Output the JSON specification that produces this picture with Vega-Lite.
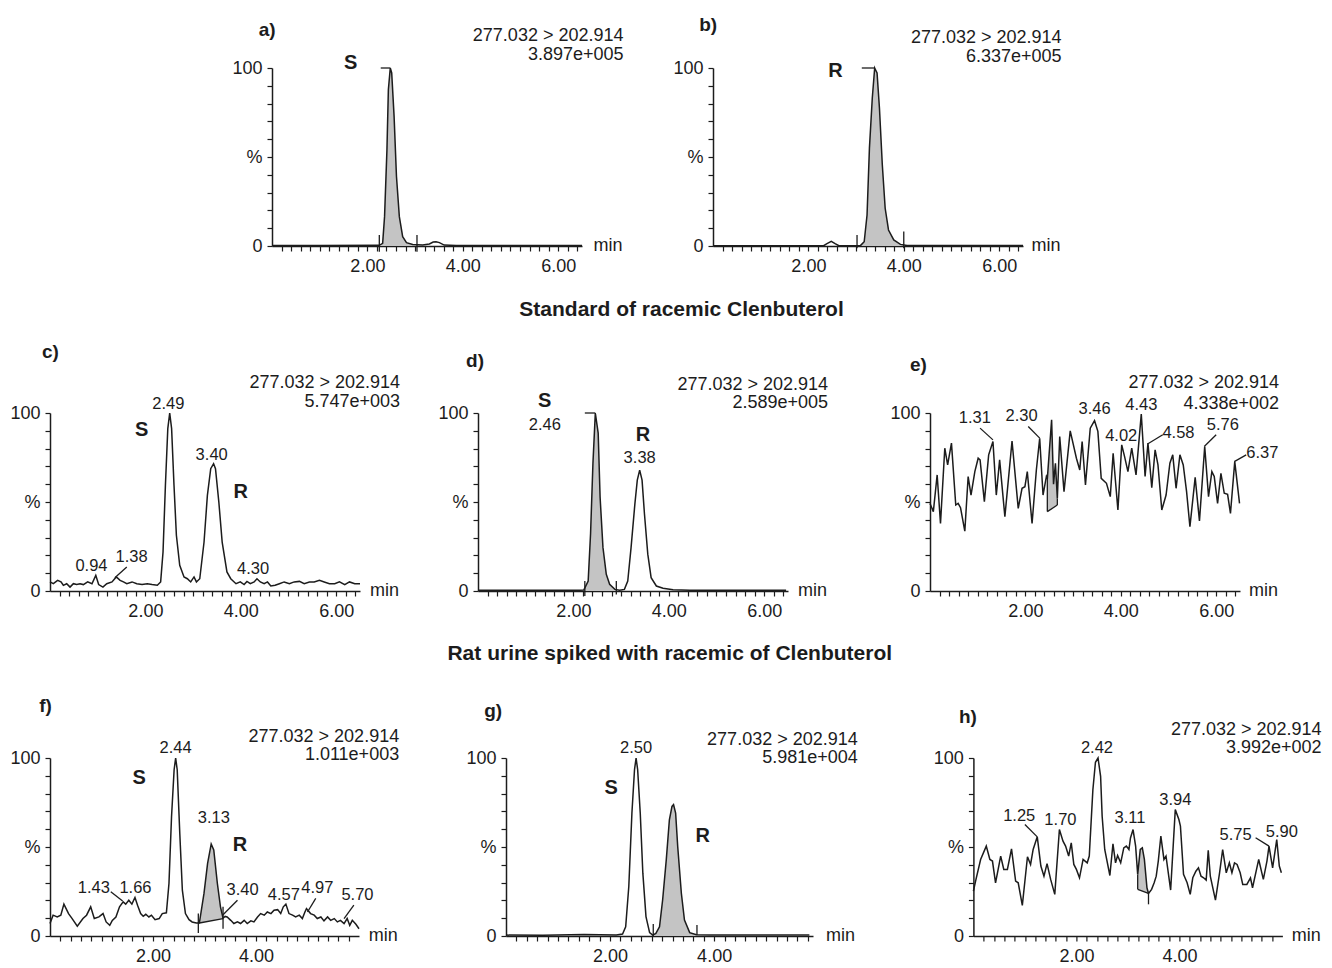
{
"$schema": "https://vega.github.io/schema/vega-lite/v6.json",
"padding": {"left": 9, "top": 15, "right": 0, "bottom": 0},
"datasets": {
"L": [
{"p":"a","t":0,"v":0.3},{"p":"a","t":1,"v":0.3},{"p":"a","t":2.25,"v":0.4},{"p":"a","t":2.32,"v":1.5},{"p":"a","t":2.36,"v":16.5},{"p":"a","t":2.41,"v":54},{"p":"a","t":2.44,"v":87.8},{"p":"a","t":2.48,"v":100},{"p":"a","t":2.51,"v":97.2},{"p":"a","t":2.56,"v":72.8},{"p":"a","t":2.61,"v":39},{"p":"a","t":2.67,"v":16.5},{"p":"a","t":2.74,"v":5.2},{"p":"a","t":2.82,"v":1.9},{"p":"a","t":2.95,"v":0.9},{"p":"a","t":3.16,"v":0.5},{"p":"a","t":3.3,"v":1.1},{"p":"a","t":3.38,"v":2.2},{"p":"a","t":3.44,"v":2.4},{"p":"a","t":3.51,"v":1.9},{"p":"a","t":3.61,"v":0.5},{"p":"a","t":3.86,"v":0.3},{"p":"a","t":6.5,"v":0.3},
{"p":"b","t":0,"v":0.2},{"p":"b","t":2.32,"v":0.2},{"p":"b","t":2.39,"v":1.3},{"p":"b","t":2.48,"v":2.6},{"p":"b","t":2.56,"v":1.3},{"p":"b","t":2.64,"v":0.2},{"p":"b","t":3.09,"v":0.2},{"p":"b","t":3.17,"v":2.4},{"p":"b","t":3.23,"v":17.4},{"p":"b","t":3.28,"v":55},{"p":"b","t":3.34,"v":83.1},{"p":"b","t":3.39,"v":100},{"p":"b","t":3.44,"v":97.2},{"p":"b","t":3.49,"v":77.5},{"p":"b","t":3.55,"v":45.6},{"p":"b","t":3.61,"v":21.2},{"p":"b","t":3.68,"v":9},{"p":"b","t":3.79,"v":3.4},{"p":"b","t":3.93,"v":0.9},{"p":"b","t":4.07,"v":0.3},{"p":"b","t":6.5,"v":0.3},
{"p":"c","t":0,"v":5.1},{"p":"c","t":0.07,"v":4.1},{"p":"c","t":0.16,"v":6},{"p":"c","t":0.23,"v":5.1},{"p":"c","t":0.28,"v":3.2},{"p":"c","t":0.35,"v":4.1},{"p":"c","t":0.42,"v":2.2},{"p":"c","t":0.49,"v":4.1},{"p":"c","t":0.56,"v":3.6},{"p":"c","t":0.63,"v":4.1},{"p":"c","t":0.7,"v":3.6},{"p":"c","t":0.79,"v":5.1},{"p":"c","t":0.88,"v":4.1},{"p":"c","t":0.96,"v":8.8},{"p":"c","t":1.02,"v":3.6},{"p":"c","t":1.11,"v":2.2},{"p":"c","t":1.19,"v":4.1},{"p":"c","t":1.3,"v":5.1},{"p":"c","t":1.39,"v":7.9},{"p":"c","t":1.47,"v":6},{"p":"c","t":1.54,"v":5.1},{"p":"c","t":1.61,"v":4.1},{"p":"c","t":1.72,"v":5.1},{"p":"c","t":1.82,"v":4.1},{"p":"c","t":1.93,"v":3.6},{"p":"c","t":2.04,"v":4.1},{"p":"c","t":2.14,"v":3.6},{"p":"c","t":2.25,"v":3.2},{"p":"c","t":2.32,"v":5.1},{"p":"c","t":2.37,"v":21.9},{"p":"c","t":2.42,"v":59.4},{"p":"c","t":2.47,"v":91.2},{"p":"c","t":2.51,"v":100},{"p":"c","t":2.55,"v":91.2},{"p":"c","t":2.6,"v":59.4},{"p":"c","t":2.65,"v":31.3},{"p":"c","t":2.72,"v":14.4},{"p":"c","t":2.81,"v":7.9},{"p":"c","t":2.88,"v":6.9},{"p":"c","t":2.95,"v":5.1},{"p":"c","t":3.02,"v":7.9},{"p":"c","t":3.07,"v":5.1},{"p":"c","t":3.14,"v":6.9},{"p":"c","t":3.23,"v":27.5},{"p":"c","t":3.3,"v":53.7},{"p":"c","t":3.37,"v":68.7},{"p":"c","t":3.43,"v":71.5},{"p":"c","t":3.47,"v":68.7},{"p":"c","t":3.54,"v":50},{"p":"c","t":3.61,"v":27.5},{"p":"c","t":3.71,"v":10.7},{"p":"c","t":3.79,"v":6.9},{"p":"c","t":3.9,"v":4.1},{"p":"c","t":3.99,"v":5.1},{"p":"c","t":4.07,"v":3.6},{"p":"c","t":4.13,"v":5.4},{"p":"c","t":4.2,"v":4.1},{"p":"c","t":4.28,"v":5.1},{"p":"c","t":4.34,"v":6.9},{"p":"c","t":4.41,"v":5.1},{"p":"c","t":4.49,"v":4.1},{"p":"c","t":4.56,"v":5.1},{"p":"c","t":4.63,"v":2.8},{"p":"c","t":4.72,"v":3.2},{"p":"c","t":4.81,"v":4.1},{"p":"c","t":4.91,"v":5.1},{"p":"c","t":5.02,"v":4.1},{"p":"c","t":5.12,"v":5.1},{"p":"c","t":5.23,"v":5.4},{"p":"c","t":5.33,"v":4.1},{"p":"c","t":5.44,"v":5.1},{"p":"c","t":5.54,"v":5.1},{"p":"c","t":5.65,"v":6},{"p":"c","t":5.75,"v":5.1},{"p":"c","t":5.86,"v":4.1},{"p":"c","t":5.97,"v":4.1},{"p":"c","t":6.07,"v":5.1},{"p":"c","t":6.18,"v":3.6},{"p":"c","t":6.28,"v":5.1},{"p":"c","t":6.39,"v":4.1},{"p":"c","t":6.5,"v":4.1},
{"p":"d","t":0,"v":0.4},{"p":"d","t":2.13,"v":0.4},{"p":"d","t":2.22,"v":0.6},{"p":"d","t":2.31,"v":5.6},{"p":"d","t":2.36,"v":32.1},{"p":"d","t":2.41,"v":71.7},{"p":"d","t":2.46,"v":100},{"p":"d","t":2.52,"v":88.7},{"p":"d","t":2.56,"v":52.8},{"p":"d","t":2.62,"v":24.5},{"p":"d","t":2.69,"v":9.4},{"p":"d","t":2.76,"v":3.8},{"p":"d","t":2.87,"v":0.9},{"p":"d","t":2.97,"v":0.4},{"p":"d","t":3.07,"v":0.9},{"p":"d","t":3.14,"v":5.6},{"p":"d","t":3.21,"v":24.5},{"p":"d","t":3.29,"v":49.1},{"p":"d","t":3.34,"v":62.3},{"p":"d","t":3.39,"v":67.9},{"p":"d","t":3.44,"v":62.3},{"p":"d","t":3.49,"v":43.4},{"p":"d","t":3.56,"v":20.7},{"p":"d","t":3.63,"v":7.5},{"p":"d","t":3.74,"v":2.8},{"p":"d","t":3.88,"v":1.5},{"p":"d","t":4.09,"v":0.7},{"p":"d","t":4.44,"v":0.4},{"p":"d","t":6.46,"v":0.4},
{"p":"e","t":0,"v":49.2},{"p":"e","t":0.07,"v":44.6},{"p":"e","t":0.15,"v":65.2},{"p":"e","t":0.22,"v":37.9},{"p":"e","t":0.31,"v":80.2},{"p":"e","t":0.37,"v":70.8},{"p":"e","t":0.45,"v":83.1},{"p":"e","t":0.54,"v":48.3},{"p":"e","t":0.59,"v":49.2},{"p":"e","t":0.64,"v":46.8},{"p":"e","t":0.73,"v":33.6},{"p":"e","t":0.8,"v":64.3},{"p":"e","t":0.86,"v":53.9},{"p":"e","t":0.94,"v":67.1},{"p":"e","t":1.01,"v":74.6},{"p":"e","t":1.05,"v":73.7},{"p":"e","t":1.14,"v":50.2},{"p":"e","t":1.23,"v":76.5},{"p":"e","t":1.32,"v":84},{"p":"e","t":1.39,"v":53.9},{"p":"e","t":1.46,"v":73.7},{"p":"e","t":1.57,"v":41.7},{"p":"e","t":1.72,"v":84.3},{"p":"e","t":1.85,"v":46.4},{"p":"e","t":1.93,"v":57.7},{"p":"e","t":1.99,"v":58.6},{"p":"e","t":2.04,"v":67.1},{"p":"e","t":2.14,"v":37.9},{"p":"e","t":2.23,"v":68},{"p":"e","t":2.3,"v":85.8},{"p":"e","t":2.37,"v":53.9},{"p":"e","t":2.44,"v":64.3},{"p":"e","t":2.46,"v":63},{"p":"e","t":2.55,"v":96.2},{"p":"e","t":2.59,"v":60},{"p":"e","t":2.63,"v":71.8},{"p":"e","t":2.67,"v":52},{"p":"e","t":2.72,"v":86.8},{"p":"e","t":2.81,"v":55.8},{"p":"e","t":2.94,"v":90},{"p":"e","t":3.07,"v":74.6},{"p":"e","t":3.14,"v":68},{"p":"e","t":3.19,"v":84},{"p":"e","t":3.26,"v":59.6},{"p":"e","t":3.36,"v":91.5},{"p":"e","t":3.45,"v":95.7},{"p":"e","t":3.52,"v":89.7},{"p":"e","t":3.59,"v":63.3},{"p":"e","t":3.7,"v":60.5},{"p":"e","t":3.78,"v":53},{"p":"e","t":3.84,"v":77.4},{"p":"e","t":3.94,"v":45.5},{"p":"e","t":4.02,"v":82.1},{"p":"e","t":4.08,"v":75.5},{"p":"e","t":4.15,"v":67.1},{"p":"e","t":4.23,"v":80.2},{"p":"e","t":4.32,"v":65.2},{"p":"e","t":4.43,"v":99.4},{"p":"e","t":4.51,"v":64.3},{"p":"e","t":4.57,"v":83.1},{"p":"e","t":4.65,"v":58},{"p":"e","t":4.72,"v":79.3},{"p":"e","t":4.78,"v":70.8},{"p":"e","t":4.86,"v":45.5},{"p":"e","t":4.95,"v":53.9},{"p":"e","t":5.03,"v":71.8},{"p":"e","t":5.09,"v":76.5},{"p":"e","t":5.16,"v":57.7},{"p":"e","t":5.24,"v":76.5},{"p":"e","t":5.31,"v":70.8},{"p":"e","t":5.38,"v":55.8},{"p":"e","t":5.45,"v":36.1},{"p":"e","t":5.56,"v":63.8},{"p":"e","t":5.65,"v":39.3},{"p":"e","t":5.76,"v":81.2},{"p":"e","t":5.84,"v":53},{"p":"e","t":5.91,"v":67.1},{"p":"e","t":5.96,"v":64.3},{"p":"e","t":6.03,"v":49.2},{"p":"e","t":6.1,"v":66.1},{"p":"e","t":6.17,"v":54.9},{"p":"e","t":6.24,"v":54.3},{"p":"e","t":6.3,"v":43.6},{"p":"e","t":6.39,"v":72.7},{"p":"e","t":6.49,"v":49.2},
{"p":"f","t":0,"v":7},{"p":"f","t":0.06,"v":11.7},{"p":"f","t":0.14,"v":10.7},{"p":"f","t":0.21,"v":11.7},{"p":"f","t":0.27,"v":17.9},{"p":"f","t":0.36,"v":12.6},{"p":"f","t":0.43,"v":9.8},{"p":"f","t":0.53,"v":5.5},{"p":"f","t":0.64,"v":9.8},{"p":"f","t":0.71,"v":11.7},{"p":"f","t":0.79,"v":16.4},{"p":"f","t":0.86,"v":9.8},{"p":"f","t":0.95,"v":10.7},{"p":"f","t":1.03,"v":12.6},{"p":"f","t":1.09,"v":7.9},{"p":"f","t":1.16,"v":6},{"p":"f","t":1.21,"v":8.8},{"p":"f","t":1.28,"v":10.7},{"p":"f","t":1.35,"v":16.4},{"p":"f","t":1.42,"v":19.2},{"p":"f","t":1.47,"v":17.9},{"p":"f","t":1.53,"v":20.1},{"p":"f","t":1.59,"v":17.9},{"p":"f","t":1.65,"v":21.6},{"p":"f","t":1.7,"v":17.3},{"p":"f","t":1.76,"v":12.6},{"p":"f","t":1.81,"v":11.1},{"p":"f","t":1.86,"v":12.2},{"p":"f","t":1.92,"v":10.7},{"p":"f","t":1.97,"v":11.7},{"p":"f","t":2.04,"v":9.2},{"p":"f","t":2.12,"v":9.8},{"p":"f","t":2.18,"v":12.6},{"p":"f","t":2.26,"v":13},{"p":"f","t":2.31,"v":29.5},{"p":"f","t":2.36,"v":67.1},{"p":"f","t":2.41,"v":93.4},{"p":"f","t":2.44,"v":100},{"p":"f","t":2.47,"v":93.4},{"p":"f","t":2.52,"v":57.7},{"p":"f","t":2.57,"v":25.8},{"p":"f","t":2.63,"v":12.6},{"p":"f","t":2.7,"v":9.2},{"p":"f","t":2.76,"v":7.9},{"p":"f","t":2.84,"v":7.3},{"p":"f","t":2.9,"v":7.3},{"p":"f","t":2.99,"v":23.9},{"p":"f","t":3.06,"v":40.8},{"p":"f","t":3.13,"v":51.7},{"p":"f","t":3.18,"v":48.3},{"p":"f","t":3.25,"v":29.5},{"p":"f","t":3.31,"v":16.4},{"p":"f","t":3.36,"v":10},{"p":"f","t":3.4,"v":11},{"p":"f","t":3.44,"v":10.7},{"p":"f","t":3.51,"v":8.8},{"p":"f","t":3.57,"v":7},{"p":"f","t":3.64,"v":7.9},{"p":"f","t":3.7,"v":7},{"p":"f","t":3.77,"v":8.8},{"p":"f","t":3.83,"v":7},{"p":"f","t":3.9,"v":8.5},{"p":"f","t":3.96,"v":7.9},{"p":"f","t":4.03,"v":10.7},{"p":"f","t":4.09,"v":12.6},{"p":"f","t":4.16,"v":11.7},{"p":"f","t":4.22,"v":13.5},{"p":"f","t":4.29,"v":12.6},{"p":"f","t":4.35,"v":14.5},{"p":"f","t":4.42,"v":14.8},{"p":"f","t":4.48,"v":12.6},{"p":"f","t":4.53,"v":16.4},{"p":"f","t":4.58,"v":17.9},{"p":"f","t":4.64,"v":12.6},{"p":"f","t":4.71,"v":11.7},{"p":"f","t":4.77,"v":10.7},{"p":"f","t":4.84,"v":11.7},{"p":"f","t":4.9,"v":9.8},{"p":"f","t":4.95,"v":13.5},{"p":"f","t":4.98,"v":15.4},{"p":"f","t":5.06,"v":12.6},{"p":"f","t":5.13,"v":11.7},{"p":"f","t":5.19,"v":9.8},{"p":"f","t":5.26,"v":10.7},{"p":"f","t":5.32,"v":8.5},{"p":"f","t":5.39,"v":10.7},{"p":"f","t":5.45,"v":8.8},{"p":"f","t":5.52,"v":9.8},{"p":"f","t":5.58,"v":7.9},{"p":"f","t":5.64,"v":8.8},{"p":"f","t":5.71,"v":7},{"p":"f","t":5.77,"v":9.8},{"p":"f","t":5.82,"v":6},{"p":"f","t":5.87,"v":8.8},{"p":"f","t":5.94,"v":6.6},{"p":"f","t":6,"v":4.1},
{"p":"g","t":0,"v":0.5},{"p":"g","t":0.71,"v":0.4},{"p":"g","t":1.5,"v":0.8},{"p":"g","t":2.12,"v":0.5},{"p":"g","t":2.24,"v":1.1},{"p":"g","t":2.3,"v":5.2},{"p":"g","t":2.36,"v":27.8},{"p":"g","t":2.42,"v":69.1},{"p":"g","t":2.47,"v":93.5},{"p":"g","t":2.5,"v":100},{"p":"g","t":2.53,"v":93.5},{"p":"g","t":2.58,"v":69.1},{"p":"g","t":2.63,"v":35.3},{"p":"g","t":2.69,"v":10.9},{"p":"g","t":2.76,"v":1.9},{"p":"g","t":2.82,"v":0.5},{"p":"g","t":2.88,"v":1.5},{"p":"g","t":2.95,"v":5.2},{"p":"g","t":3.01,"v":20.2},{"p":"g","t":3.08,"v":42.8},{"p":"g","t":3.14,"v":65.3},{"p":"g","t":3.19,"v":72.8},{"p":"g","t":3.22,"v":73.8},{"p":"g","t":3.26,"v":69.1},{"p":"g","t":3.3,"v":50.3},{"p":"g","t":3.37,"v":24},{"p":"g","t":3.43,"v":9},{"p":"g","t":3.53,"v":1.9},{"p":"g","t":3.66,"v":0.7},{"p":"g","t":3.91,"v":0.5},{"p":"g","t":5.83,"v":0.5},
{"p":"h","t":0,"v":25.2},{"p":"h","t":0.05,"v":31.8},{"p":"h","t":0.14,"v":43},{"p":"h","t":0.25,"v":50.5},{"p":"h","t":0.32,"v":43},{"p":"h","t":0.37,"v":42.1},{"p":"h","t":0.43,"v":29.9},{"p":"h","t":0.53,"v":44.9},{"p":"h","t":0.59,"v":37.4},{"p":"h","t":0.66,"v":37.4},{"p":"h","t":0.74,"v":49},{"p":"h","t":0.82,"v":30.9},{"p":"h","t":0.87,"v":29.9},{"p":"h","t":0.95,"v":17.2},{"p":"h","t":1.05,"v":44.5},{"p":"h","t":1.11,"v":40.2},{"p":"h","t":1.16,"v":48.6},{"p":"h","t":1.24,"v":55.7},{"p":"h","t":1.31,"v":39.3},{"p":"h","t":1.37,"v":33.6},{"p":"h","t":1.43,"v":40.7},{"p":"h","t":1.5,"v":31.8},{"p":"h","t":1.58,"v":23.4},{"p":"h","t":1.67,"v":59.8},{"p":"h","t":1.74,"v":53.3},{"p":"h","t":1.79,"v":50.5},{"p":"h","t":1.85,"v":44.9},{"p":"h","t":1.9,"v":52.3},{"p":"h","t":1.95,"v":40.2},{"p":"h","t":2,"v":37.4},{"p":"h","t":2.06,"v":32.7},{"p":"h","t":2.13,"v":43},{"p":"h","t":2.21,"v":41.1},{"p":"h","t":2.25,"v":44.9},{"p":"h","t":2.32,"v":82.2},{"p":"h","t":2.37,"v":97.6},{"p":"h","t":2.42,"v":100},{"p":"h","t":2.47,"v":89.7},{"p":"h","t":2.5,"v":67.3},{"p":"h","t":2.55,"v":48.6},{"p":"h","t":2.65,"v":34},{"p":"h","t":2.71,"v":51.8},{"p":"h","t":2.76,"v":41.1},{"p":"h","t":2.8,"v":45.2},{"p":"h","t":2.86,"v":41.1},{"p":"h","t":2.92,"v":49.5},{"p":"h","t":2.97,"v":50.5},{"p":"h","t":3.02,"v":48.6},{"p":"h","t":3.05,"v":55.1},{"p":"h","t":3.1,"v":59.8},{"p":"h","t":3.15,"v":50.5},{"p":"h","t":3.19,"v":34.6},{"p":"h","t":3.24,"v":48.6},{"p":"h","t":3.28,"v":49.5},{"p":"h","t":3.32,"v":43},{"p":"h","t":3.37,"v":27.1},{"p":"h","t":3.4,"v":23.9},{"p":"h","t":3.46,"v":26.2},{"p":"h","t":3.51,"v":29.9},{"p":"h","t":3.55,"v":33.6},{"p":"h","t":3.59,"v":42.1},{"p":"h","t":3.64,"v":56.1},{"p":"h","t":3.7,"v":43},{"p":"h","t":3.74,"v":44.9},{"p":"h","t":3.83,"v":25.8},{"p":"h","t":3.92,"v":71},{"p":"h","t":3.99,"v":65.4},{"p":"h","t":4.02,"v":61.7},{"p":"h","t":4.08,"v":34.6},{"p":"h","t":4.15,"v":29.9},{"p":"h","t":4.21,"v":23.4},{"p":"h","t":4.26,"v":32.7},{"p":"h","t":4.32,"v":36.4},{"p":"h","t":4.37,"v":38.3},{"p":"h","t":4.42,"v":33.6},{"p":"h","t":4.47,"v":32.7},{"p":"h","t":4.52,"v":31.4},{"p":"h","t":4.56,"v":48.2},{"p":"h","t":4.6,"v":33.6},{"p":"h","t":4.7,"v":20.2},{"p":"h","t":4.78,"v":35.5},{"p":"h","t":4.84,"v":48.6},{"p":"h","t":4.91,"v":35.5},{"p":"h","t":4.97,"v":41.1},{"p":"h","t":5.02,"v":35.5},{"p":"h","t":5.07,"v":41.1},{"p":"h","t":5.12,"v":40.2},{"p":"h","t":5.18,"v":35.5},{"p":"h","t":5.23,"v":29},{"p":"h","t":5.31,"v":29},{"p":"h","t":5.38,"v":32.7},{"p":"h","t":5.42,"v":27.1},{"p":"h","t":5.54,"v":43},{"p":"h","t":5.63,"v":31.8},{"p":"h","t":5.7,"v":42.1},{"p":"h","t":5.74,"v":50.5},{"p":"h","t":5.81,"v":38.3},{"p":"h","t":5.89,"v":54.2},{"p":"h","t":5.94,"v":39.3},{"p":"h","t":5.98,"v":35.5}
],
"A": [
{"p":"a","t":2.25,"v":0.4,"b":0},{"p":"a","t":2.32,"v":1.5,"b":0},{"p":"a","t":2.36,"v":16.5,"b":0},{"p":"a","t":2.41,"v":54,"b":0},{"p":"a","t":2.44,"v":87.8,"b":0},{"p":"a","t":2.48,"v":100,"b":0},{"p":"a","t":2.51,"v":97.2,"b":0},{"p":"a","t":2.56,"v":72.8,"b":0},{"p":"a","t":2.61,"v":39,"b":0},{"p":"a","t":2.67,"v":16.5,"b":0},{"p":"a","t":2.74,"v":5.2,"b":0},{"p":"a","t":2.82,"v":1.9,"b":0},{"p":"a","t":2.95,"v":0.9,"b":0},{"p":"a","t":3.04,"v":0.6,"b":0},
{"p":"b","t":3.02,"v":0.2,"b":0},{"p":"b","t":3.09,"v":0.2,"b":0},{"p":"b","t":3.17,"v":2.4,"b":0},{"p":"b","t":3.23,"v":17.4,"b":0},{"p":"b","t":3.28,"v":55,"b":0},{"p":"b","t":3.34,"v":83.1,"b":0},{"p":"b","t":3.39,"v":100,"b":0},{"p":"b","t":3.44,"v":97.2,"b":0},{"p":"b","t":3.49,"v":77.5,"b":0},{"p":"b","t":3.55,"v":45.6,"b":0},{"p":"b","t":3.61,"v":21.2,"b":0},{"p":"b","t":3.68,"v":9,"b":0},{"p":"b","t":3.79,"v":3.4,"b":0},{"p":"b","t":3.93,"v":0.9,"b":0},{"p":"b","t":4,"v":0.5,"b":0},
{"p":"d","t":2.24,"v":0.6,"b":0},{"p":"d","t":2.31,"v":5.6,"b":0},{"p":"d","t":2.36,"v":32.1,"b":0},{"p":"d","t":2.41,"v":71.7,"b":0},{"p":"d","t":2.46,"v":100,"b":0},{"p":"d","t":2.52,"v":88.7,"b":0},{"p":"d","t":2.56,"v":52.8,"b":0},{"p":"d","t":2.62,"v":24.5,"b":0},{"p":"d","t":2.69,"v":9.4,"b":0},{"p":"d","t":2.76,"v":3.8,"b":0},{"p":"d","t":2.87,"v":0.9,"b":0},{"p":"d","t":2.9,"v":0.7,"b":0},
{"p":"e","t":2.46,"v":63,"b":44.6},{"p":"e","t":2.55,"v":96.2,"b":45.8},{"p":"e","t":2.59,"v":60,"b":46.6},{"p":"e","t":2.63,"v":71.8,"b":47.4},{"p":"e","t":2.67,"v":52,"b":48.3},
{"p":"f","t":2.9,"v":7.3,"b":7.3},{"p":"f","t":2.99,"v":23.9,"b":7.8},{"p":"f","t":3.06,"v":40.8,"b":8.2},{"p":"f","t":3.13,"v":51.7,"b":8.6},{"p":"f","t":3.18,"v":48.3,"b":8.8},{"p":"f","t":3.25,"v":29.5,"b":9.2},{"p":"f","t":3.31,"v":16.4,"b":9.5},{"p":"f","t":3.36,"v":10,"b":9.8},
{"p":"g","t":2.83,"v":0.6,"b":0},{"p":"g","t":2.88,"v":1.5,"b":0},{"p":"g","t":2.95,"v":5.2,"b":0},{"p":"g","t":3.01,"v":20.2,"b":0},{"p":"g","t":3.08,"v":42.8,"b":0},{"p":"g","t":3.14,"v":65.3,"b":0},{"p":"g","t":3.19,"v":72.8,"b":0},{"p":"g","t":3.22,"v":73.8,"b":0},{"p":"g","t":3.26,"v":69.1,"b":0},{"p":"g","t":3.3,"v":50.3,"b":0},{"p":"g","t":3.37,"v":24,"b":0},{"p":"g","t":3.43,"v":9,"b":0},{"p":"g","t":3.53,"v":1.9,"b":0},{"p":"g","t":3.66,"v":0.7,"b":0},
{"p":"h","t":3.19,"v":34.6,"b":26.2},{"p":"h","t":3.24,"v":48.6,"b":25.6},{"p":"h","t":3.28,"v":49.5,"b":25.2},{"p":"h","t":3.32,"v":43,"b":24.8},{"p":"h","t":3.37,"v":27.1,"b":24.2},{"p":"h","t":3.4,"v":23.9,"b":23.9}
],
"R": [
{"p":"a","t":2.28,"v":100,"t2":2.48,"v2":100},{"p":"a","t":2.25,"v":6.2,"t2":2.25,"v2":-3.2},{"p":"a","t":3.04,"v":6.2,"t2":3.04,"v2":-3.2},
{"p":"b","t":3.12,"v":100,"t2":3.39,"v2":100},{"p":"b","t":3.02,"v":6.2,"t2":3.02,"v2":-1.3},{"p":"b","t":4,"v":8.1,"t2":4,"v2":-1.3},
{"p":"c","t":1.61,"v":13.5,"t2":1.36,"v2":7.5},
{"p":"d","t":2.24,"v":100,"t2":2.46,"v2":100},{"p":"d","t":2.24,"v":5.6,"t2":2.24,"v2":-2.8},{"p":"d","t":2.9,"v":5.6,"t2":2.9,"v2":-1.9},
{"p":"e","t":1.05,"v":91.5,"t2":1.32,"v2":84.9},{"p":"e","t":2.06,"v":92.4,"t2":2.3,"v2":85.9},{"p":"e","t":4.88,"v":87.8,"t2":4.57,"v2":82.7},{"p":"e","t":6,"v":87.8,"t2":5.75,"v2":81.2},{"p":"e","t":6.63,"v":76.5,"t2":6.38,"v2":72.7},{"p":"e","t":2.46,"v":63,"t2":2.46,"v2":44.6},{"p":"e","t":2.46,"v":44.6,"t2":2.67,"v2":48.3},{"p":"e","t":2.67,"v":52,"t2":2.67,"v2":48.3},
{"p":"f","t":1.18,"v":24.8,"t2":1.41,"v2":19.6},{"p":"f","t":3.64,"v":20.1,"t2":3.35,"v2":11.7},{"p":"f","t":5.16,"v":21.1,"t2":5,"v2":13.5},{"p":"f","t":5.9,"v":17.3,"t2":5.71,"v2":9.8},{"p":"f","t":2.88,"v":12.6,"t2":2.88,"v2":1.7},{"p":"f","t":3.36,"v":16.4,"t2":3.36,"v2":4.1},{"p":"f","t":2.9,"v":7.3,"t2":3.36,"v2":9.8},
{"p":"g","t":2.83,"v":6.7,"t2":2.83,"v2":0},{"p":"g","t":3.67,"v":6.2,"t2":3.67,"v2":0.5},
{"p":"h","t":1,"v":62.6,"t2":1.24,"v2":55.7},{"p":"h","t":5.48,"v":55.2,"t2":5.74,"v2":50.5},{"p":"h","t":3.19,"v":34.6,"t2":3.19,"v2":26.2},{"p":"h","t":3.19,"v":26.2,"t2":3.4,"v2":23.9},{"p":"h","t":3.4,"v":23.9,"t2":3.4,"v2":17.8}
],
"T": [
{"p":"a","k":"lab","t":-0.28,"v":121.6,"s":"a)"},{"p":"a","k":"hdr","t":7.37,"v":117.9,"s":"277.032 > 202.914"},{"p":"a","k":"hdr","t":7.37,"v":107.5,"s":"3.897e+005"},{"p":"a","k":"sr","t":1.65,"v":102.8,"s":"S"},{"p":"a","k":"min","t":6.74,"v":0,"s":"min"},
{"p":"b","k":"lab","t":-0.29,"v":124.4,"s":"b)"},{"p":"b","k":"hdr","t":7.31,"v":116.8,"s":"277.032 > 202.914"},{"p":"b","k":"hdr","t":7.31,"v":106.4,"s":"6.337e+005"},{"p":"b","k":"sr","t":2.57,"v":98.1,"s":"R"},{"p":"b","k":"min","t":6.68,"v":0,"s":"min"},
{"p":"c","k":"lab","t":-0.17,"v":134.3,"s":"c)"},{"p":"c","k":"hdr","t":7.34,"v":116.7,"s":"277.032 > 202.914"},{"p":"c","k":"hdr","t":7.34,"v":106.2,"s":"5.747e+003"},{"p":"c","k":"num","t":2.48,"v":105.2,"s":"2.49"},{"p":"c","k":"num","t":3.39,"v":76.2,"s":"3.40"},{"p":"c","k":"num","t":0.87,"v":13.9,"s":"0.94"},{"p":"c","k":"num","t":1.71,"v":19.1,"s":"1.38"},{"p":"c","k":"num","t":4.26,"v":12.2,"s":"4.30"},{"p":"c","k":"sr","t":1.92,"v":90.3,"s":"S"},{"p":"c","k":"sr","t":4,"v":55.6,"s":"R"},{"p":"c","k":"min","t":6.71,"v":0,"s":"min"},
{"p":"d","k":"lab","t":-0.25,"v":129.3,"s":"d)"},{"p":"d","k":"hdr","t":7.34,"v":115.9,"s":"277.032 > 202.914"},{"p":"d","k":"hdr","t":7.34,"v":105.5,"s":"2.589e+005"},{"p":"d","k":"sr","t":1.4,"v":106.6,"s":"S"},{"p":"d","k":"sr","t":3.46,"v":87.7,"s":"R"},{"p":"d","k":"num","t":1.4,"v":93.4,"s":"2.46"},{"p":"d","k":"num","t":3.39,"v":74.5,"s":"3.38"},{"p":"d","k":"min","t":6.71,"v":0,"s":"min"},
{"p":"e","k":"lab","t":-0.42,"v":127.2,"s":"e)"},{"p":"e","k":"hdr","t":7.32,"v":116.9,"s":"277.032 > 202.914"},{"p":"e","k":"hdr","t":7.32,"v":105.2,"s":"4.338e+002"},{"p":"e","k":"num","t":0.94,"v":97.2,"s":"1.31"},{"p":"e","k":"num","t":1.92,"v":98.1,"s":"2.30"},{"p":"e","k":"num","t":3.45,"v":102.3,"s":"3.46"},{"p":"e","k":"num","t":4.43,"v":104.7,"s":"4.43"},{"p":"e","k":"num","t":4.01,"v":87.3,"s":"4.02"},{"p":"e","k":"num","t":5.21,"v":88.7,"s":"4.58"},{"p":"e","k":"num","t":6.14,"v":93.4,"s":"5.76"},{"p":"e","k":"num","t":6.97,"v":77.5,"s":"6.37"},{"p":"e","k":"min","t":6.69,"v":0,"s":"min"},
{"p":"f","k":"lab","t":-0.21,"v":129.1,"s":"f)"},{"p":"f","k":"hdr","t":6.78,"v":112,"s":"277.032 > 202.914"},{"p":"f","k":"hdr","t":6.78,"v":101.6,"s":"1.011e+003"},{"p":"f","k":"num","t":2.44,"v":105.6,"s":"2.44"},{"p":"f","k":"num","t":3.18,"v":66.2,"s":"3.13"},{"p":"f","k":"num","t":0.85,"v":26.7,"s":"1.43"},{"p":"f","k":"num","t":1.66,"v":26.7,"s":"1.66"},{"p":"f","k":"num","t":3.74,"v":25.8,"s":"3.40"},{"p":"f","k":"num","t":4.54,"v":22.9,"s":"4.57"},{"p":"f","k":"num","t":5.19,"v":26.7,"s":"4.97"},{"p":"f","k":"num","t":5.97,"v":22.9,"s":"5.70"},{"p":"f","k":"sr","t":1.73,"v":88.7,"s":"S"},{"p":"f","k":"sr","t":3.69,"v":51.1,"s":"R"},{"p":"f","k":"min","t":6.19,"v":0,"s":"min"},
{"p":"g","k":"lab","t":-0.42,"v":126.3,"s":"g)"},{"p":"g","k":"hdr","t":6.76,"v":110.2,"s":"277.032 > 202.914"},{"p":"g","k":"hdr","t":6.76,"v":99.8,"s":"5.981e+004"},{"p":"g","k":"num","t":2.5,"v":105.6,"s":"2.50"},{"p":"g","k":"sr","t":2.02,"v":83.1,"s":"S"},{"p":"g","k":"sr","t":3.78,"v":55.9,"s":"R"},{"p":"g","k":"min","t":6.15,"v":0,"s":"min"},
{"p":"h","k":"lab","t":-0.28,"v":123.3,"s":"h)"},{"p":"h","k":"hdr","t":6.76,"v":116,"s":"277.032 > 202.914"},{"p":"h","k":"hdr","t":6.76,"v":105.6,"s":"3.992e+002"},{"p":"h","k":"num","t":0.89,"v":67.3,"s":"1.25"},{"p":"h","k":"num","t":1.69,"v":65.4,"s":"1.70"},{"p":"h","k":"num","t":2.4,"v":105.6,"s":"2.42"},{"p":"h","k":"num","t":3.04,"v":66.4,"s":"3.11"},{"p":"h","k":"num","t":3.92,"v":76.6,"s":"3.94"},{"p":"h","k":"num","t":5.09,"v":57,"s":"5.75"},{"p":"h","k":"num","t":5.99,"v":58.3,"s":"5.90"},{"p":"h","k":"min","t":6.18,"v":0,"s":"min"}
]
},
"spacing": 23,
"vconcat": [
{"spacing": 48, "hconcat": [
 {"width": 133, "height": 10, "data": {"values": []}, "mark": "point", "encoding": {}},
 {"width": 310, "height": 178,
  "encoding": {"x": {"field": "t", "type": "quantitative", "scale": {"domain": [0, 6.5], "nice": false, "zero": false}, "axis": {"values": [0.2,0.4,0.6,0.8,1,1.2,1.4,1.6,1.8,2,2.2,2.4,2.6,2.8,3,3.2,3.4,3.6,3.8,4,4.2,4.4,4.6,4.8,5,5.2,5.4,5.6,5.8,6,6.2,6.4], "title": null, "labelExpr": "(abs(datum.value-2)<0.01||abs(datum.value-4)<0.01||abs(datum.value-6)<0.01)?format(datum.value,'.2f'):''", "encode": {"ticks": {"update": {"y2": {"signal": "abs(datum.value-round(datum.value))<0.01?10:5"}}}}}},
   "y": {"field": "v", "type": "quantitative", "scale": {"domain": [0, 100], "nice": false}, "axis": {"values": [0,10,20,30,40,50,60,70,80,90,100], "title": null, "labelExpr": "datum.value==100?'100':datum.value==50?'%':datum.value==0?'0':''", "encode": {"ticks": {"update": {"x2": {"signal": "datum.value%50==0?-10:-5"}}}}}}},
  "layer": [
   {"data": {"name": "A"}, "transform": [{"filter": "datum.p=='a'"}], "mark": {"type": "area", "color": "#c4c4c4", "opacity": 1}, "encoding": {"y2": {"field": "b"}}},
   {"data": {"name": "L"}, "transform": [{"filter": "datum.p=='a'"}], "mark": {"type": "line", "color": "#1c1c1c", "strokeWidth": 1.5}, "encoding": {}},
   {"data": {"name": "R"}, "transform": [{"filter": "datum.p=='a'"}], "mark": {"type": "rule", "color": "#1c1c1c", "strokeWidth": 1.3}, "encoding": {"x2": {"field": "t2"}, "y2": {"field": "v2"}}},
   {"data": {"name": "T"}, "transform": [{"filter": "datum.p=='a'"}], "mark": {"type": "text", "baseline": "middle", "color": "#1c1c1c", "align": {"expr": "datum.k=='hdr'?'right':(datum.k=='lab'||datum.k=='min')?'left':'center'"}, "fontWeight": {"expr": "(datum.k=='lab'||datum.k=='sr')?'bold':'normal'"}, "fontSize": {"expr": "datum.k=='sr'?20:datum.k=='lab'?19:(datum.k=='hdr'||datum.k=='min')?18:16.5"}}, "encoding": {"text": {"field": "s"}}}
  ]},
 {"width": 310, "height": 178,
  "encoding": {"x": {"field": "t", "type": "quantitative", "scale": {"domain": [0, 6.5], "nice": false, "zero": false}, "axis": {"values": [0.2,0.4,0.6,0.8,1,1.2,1.4,1.6,1.8,2,2.2,2.4,2.6,2.8,3,3.2,3.4,3.6,3.8,4,4.2,4.4,4.6,4.8,5,5.2,5.4,5.6,5.8,6,6.2,6.4], "title": null, "labelExpr": "(abs(datum.value-2)<0.01||abs(datum.value-4)<0.01||abs(datum.value-6)<0.01)?format(datum.value,'.2f'):''", "encode": {"ticks": {"update": {"y2": {"signal": "abs(datum.value-round(datum.value))<0.01?10:5"}}}}}},
   "y": {"field": "v", "type": "quantitative", "scale": {"domain": [0, 100], "nice": false}, "axis": {"values": [0,10,20,30,40,50,60,70,80,90,100], "title": null, "labelExpr": "datum.value==100?'100':datum.value==50?'%':datum.value==0?'0':''", "encode": {"ticks": {"update": {"x2": {"signal": "datum.value%50==0?-10:-5"}}}}}}},
  "layer": [
   {"data": {"name": "A"}, "transform": [{"filter": "datum.p=='b'"}], "mark": {"type": "area", "color": "#c4c4c4", "opacity": 1}, "encoding": {"y2": {"field": "b"}}},
   {"data": {"name": "L"}, "transform": [{"filter": "datum.p=='b'"}], "mark": {"type": "line", "color": "#1c1c1c", "strokeWidth": 1.5}, "encoding": {}},
   {"data": {"name": "R"}, "transform": [{"filter": "datum.p=='b'"}], "mark": {"type": "rule", "color": "#1c1c1c", "strokeWidth": 1.3}, "encoding": {"x2": {"field": "t2"}, "y2": {"field": "v2"}}},
   {"data": {"name": "T"}, "transform": [{"filter": "datum.p=='b'"}], "mark": {"type": "text", "baseline": "middle", "color": "#1c1c1c", "align": {"expr": "datum.k=='hdr'?'right':(datum.k=='lab'||datum.k=='min')?'left':'center'"}, "fontWeight": {"expr": "(datum.k=='lab'||datum.k=='sr')?'bold':'normal'"}, "fontSize": {"expr": "datum.k=='sr'?20:datum.k=='lab'?19:(datum.k=='hdr'||datum.k=='min')?18:16.5"}}, "encoding": {"text": {"field": "s"}}}
  ]}
]},
{"title": {"text": "Standard of racemic Clenbuterol", "anchor": "middle", "frame": "bounds", "dx": 37, "offset": 23, "fontSize": 21, "fontWeight": "bold", "font": "Liberation Sans", "color": "#1c1c1c"},
 "spacing": 36, "hconcat": [
 {"width": 310, "height": 178,
  "encoding": {"x": {"field": "t", "type": "quantitative", "scale": {"domain": [0, 6.5], "nice": false, "zero": false}, "axis": {"values": [0.2,0.4,0.6,0.8,1,1.2,1.4,1.6,1.8,2,2.2,2.4,2.6,2.8,3,3.2,3.4,3.6,3.8,4,4.2,4.4,4.6,4.8,5,5.2,5.4,5.6,5.8,6,6.2,6.4], "title": null, "labelExpr": "(abs(datum.value-2)<0.01||abs(datum.value-4)<0.01||abs(datum.value-6)<0.01)?format(datum.value,'.2f'):''", "encode": {"ticks": {"update": {"y2": {"signal": "abs(datum.value-round(datum.value))<0.01?10:5"}}}}}},
   "y": {"field": "v", "type": "quantitative", "scale": {"domain": [0, 100], "nice": false}, "axis": {"values": [0,10,20,30,40,50,60,70,80,90,100], "title": null, "labelExpr": "datum.value==100?'100':datum.value==50?'%':datum.value==0?'0':''", "encode": {"ticks": {"update": {"x2": {"signal": "datum.value%50==0?-10:-5"}}}}}}},
  "layer": [
   {"data": {"name": "A"}, "transform": [{"filter": "datum.p=='c'"}], "mark": {"type": "area", "color": "#c4c4c4", "opacity": 1}, "encoding": {"y2": {"field": "b"}}},
   {"data": {"name": "L"}, "transform": [{"filter": "datum.p=='c'"}], "mark": {"type": "line", "color": "#1c1c1c", "strokeWidth": 1.5}, "encoding": {}},
   {"data": {"name": "R"}, "transform": [{"filter": "datum.p=='c'"}], "mark": {"type": "rule", "color": "#1c1c1c", "strokeWidth": 1.3}, "encoding": {"x2": {"field": "t2"}, "y2": {"field": "v2"}}},
   {"data": {"name": "T"}, "transform": [{"filter": "datum.p=='c'"}], "mark": {"type": "text", "baseline": "middle", "color": "#1c1c1c", "align": {"expr": "datum.k=='hdr'?'right':(datum.k=='lab'||datum.k=='min')?'left':'center'"}, "fontWeight": {"expr": "(datum.k=='lab'||datum.k=='sr')?'bold':'normal'"}, "fontSize": {"expr": "datum.k=='sr'?20:datum.k=='lab'?19:(datum.k=='hdr'||datum.k=='min')?18:16.5"}}, "encoding": {"text": {"field": "s"}}}
  ]},
 {"spacing": 60, "hconcat": [
 {"width": 310, "height": 178,
  "encoding": {"x": {"field": "t", "type": "quantitative", "scale": {"domain": [0, 6.5], "nice": false, "zero": false}, "axis": {"values": [0.2,0.4,0.6,0.8,1,1.2,1.4,1.6,1.8,2,2.2,2.4,2.6,2.8,3,3.2,3.4,3.6,3.8,4,4.2,4.4,4.6,4.8,5,5.2,5.4,5.6,5.8,6,6.2,6.4], "title": null, "labelExpr": "(abs(datum.value-2)<0.01||abs(datum.value-4)<0.01||abs(datum.value-6)<0.01)?format(datum.value,'.2f'):''", "encode": {"ticks": {"update": {"y2": {"signal": "abs(datum.value-round(datum.value))<0.01?10:5"}}}}}},
   "y": {"field": "v", "type": "quantitative", "scale": {"domain": [0, 100], "nice": false}, "axis": {"values": [0,10,20,30,40,50,60,70,80,90,100], "title": null, "labelExpr": "datum.value==100?'100':datum.value==50?'%':datum.value==0?'0':''", "encode": {"ticks": {"update": {"x2": {"signal": "datum.value%50==0?-10:-5"}}}}}}},
  "layer": [
   {"data": {"name": "A"}, "transform": [{"filter": "datum.p=='d'"}], "mark": {"type": "area", "color": "#c4c4c4", "opacity": 1}, "encoding": {"y2": {"field": "b"}}},
   {"data": {"name": "L"}, "transform": [{"filter": "datum.p=='d'"}], "mark": {"type": "line", "color": "#1c1c1c", "strokeWidth": 1.5}, "encoding": {}},
   {"data": {"name": "R"}, "transform": [{"filter": "datum.p=='d'"}], "mark": {"type": "rule", "color": "#1c1c1c", "strokeWidth": 1.3}, "encoding": {"x2": {"field": "t2"}, "y2": {"field": "v2"}}},
   {"data": {"name": "T"}, "transform": [{"filter": "datum.p=='d'"}], "mark": {"type": "text", "baseline": "middle", "color": "#1c1c1c", "align": {"expr": "datum.k=='hdr'?'right':(datum.k=='lab'||datum.k=='min')?'left':'center'"}, "fontWeight": {"expr": "(datum.k=='lab'||datum.k=='sr')?'bold':'normal'"}, "fontSize": {"expr": "datum.k=='sr'?20:datum.k=='lab'?19:(datum.k=='hdr'||datum.k=='min')?18:16.5"}}, "encoding": {"text": {"field": "s"}}}
  ]},
 {"width": 310, "height": 178,
  "encoding": {"x": {"field": "t", "type": "quantitative", "scale": {"domain": [0, 6.5], "nice": false, "zero": false}, "axis": {"values": [0.2,0.4,0.6,0.8,1,1.2,1.4,1.6,1.8,2,2.2,2.4,2.6,2.8,3,3.2,3.4,3.6,3.8,4,4.2,4.4,4.6,4.8,5,5.2,5.4,5.6,5.8,6,6.2,6.4], "title": null, "labelExpr": "(abs(datum.value-2)<0.01||abs(datum.value-4)<0.01||abs(datum.value-6)<0.01)?format(datum.value,'.2f'):''", "encode": {"ticks": {"update": {"y2": {"signal": "abs(datum.value-round(datum.value))<0.01?10:5"}}}}}},
   "y": {"field": "v", "type": "quantitative", "scale": {"domain": [0, 100], "nice": false}, "axis": {"values": [0,10,20,30,40,50,60,70,80,90,100], "title": null, "labelExpr": "datum.value==100?'100':datum.value==50?'%':datum.value==0?'0':''", "encode": {"ticks": {"update": {"x2": {"signal": "datum.value%50==0?-10:-5"}}}}}}},
  "layer": [
   {"data": {"name": "A"}, "transform": [{"filter": "datum.p=='e'"}], "mark": {"type": "area", "color": "#c4c4c4", "opacity": 1}, "encoding": {"y2": {"field": "b"}}},
   {"data": {"name": "L"}, "transform": [{"filter": "datum.p=='e'"}], "mark": {"type": "line", "color": "#1c1c1c", "strokeWidth": 1.5}, "encoding": {}},
   {"data": {"name": "R"}, "transform": [{"filter": "datum.p=='e'"}], "mark": {"type": "rule", "color": "#1c1c1c", "strokeWidth": 1.3}, "encoding": {"x2": {"field": "t2"}, "y2": {"field": "v2"}}},
   {"data": {"name": "T"}, "transform": [{"filter": "datum.p=='e'"}], "mark": {"type": "text", "baseline": "middle", "color": "#1c1c1c", "align": {"expr": "datum.k=='hdr'?'right':(datum.k=='lab'||datum.k=='min')?'left':'center'"}, "fontWeight": {"expr": "(datum.k=='lab'||datum.k=='sr')?'bold':'normal'"}, "fontSize": {"expr": "datum.k=='sr'?20:datum.k=='lab'?19:(datum.k=='hdr'||datum.k=='min')?18:16.5"}}, "encoding": {"text": {"field": "s"}}}
  ]}
 ]}
]},
{"title": {"text": "Rat urine spiked with racemic of Clenbuterol", "anchor": "middle", "frame": "bounds", "dx": 4, "offset": 33, "fontSize": 21, "fontWeight": "bold", "font": "Liberation Sans", "color": "#1c1c1c"},
 "spacing": 65, "hconcat": [
 {"width": 309, "height": 178,
  "encoding": {"x": {"field": "t", "type": "quantitative", "scale": {"domain": [0, 6], "nice": false, "zero": false}, "axis": {"values": [0.2,0.4,0.6,0.8,1,1.2,1.4,1.6,1.8,2,2.2,2.4,2.6,2.8,3,3.2,3.4,3.6,3.8,4,4.2,4.4,4.6,4.8,5,5.2,5.4,5.6,5.8], "title": null, "labelExpr": "(abs(datum.value-2)<0.01||abs(datum.value-4)<0.01)?format(datum.value,'.2f'):''", "encode": {"ticks": {"update": {"y2": {"signal": "abs(datum.value-round(datum.value))<0.01?10:5"}}}}}},
   "y": {"field": "v", "type": "quantitative", "scale": {"domain": [0, 100], "nice": false}, "axis": {"values": [0,10,20,30,40,50,60,70,80,90,100], "title": null, "labelExpr": "datum.value==100?'100':datum.value==50?'%':datum.value==0?'0':''", "encode": {"ticks": {"update": {"x2": {"signal": "datum.value%50==0?-10:-5"}}}}}}},
  "layer": [
   {"data": {"name": "A"}, "transform": [{"filter": "datum.p=='f'"}], "mark": {"type": "area", "color": "#c4c4c4", "opacity": 1}, "encoding": {"y2": {"field": "b"}}},
   {"data": {"name": "L"}, "transform": [{"filter": "datum.p=='f'"}], "mark": {"type": "line", "color": "#1c1c1c", "strokeWidth": 1.5}, "encoding": {}},
   {"data": {"name": "R"}, "transform": [{"filter": "datum.p=='f'"}], "mark": {"type": "rule", "color": "#1c1c1c", "strokeWidth": 1.3}, "encoding": {"x2": {"field": "t2"}, "y2": {"field": "v2"}}},
   {"data": {"name": "T"}, "transform": [{"filter": "datum.p=='f'"}], "mark": {"type": "text", "baseline": "middle", "color": "#1c1c1c", "align": {"expr": "datum.k=='hdr'?'right':(datum.k=='lab'||datum.k=='min')?'left':'center'"}, "fontWeight": {"expr": "(datum.k=='lab'||datum.k=='sr')?'bold':'normal'"}, "fontSize": {"expr": "datum.k=='sr'?20:datum.k=='lab'?19:(datum.k=='hdr'||datum.k=='min')?18:16.5"}}, "encoding": {"text": {"field": "s"}}}
  ]},
 {"spacing": 74.4, "hconcat": [
 {"width": 307, "height": 178,
  "encoding": {"x": {"field": "t", "type": "quantitative", "scale": {"domain": [0, 5.9], "nice": false, "zero": false}, "axis": {"values": [0.2,0.4,0.6,0.8,1,1.2,1.4,1.6,1.8,2,2.2,2.4,2.6,2.8,3,3.2,3.4,3.6,3.8,4,4.2,4.4,4.6,4.8,5,5.2,5.4,5.6,5.8], "title": null, "labelExpr": "(abs(datum.value-2)<0.01||abs(datum.value-4)<0.01)?format(datum.value,'.2f'):''", "encode": {"ticks": {"update": {"y2": {"signal": "abs(datum.value-round(datum.value))<0.01?10:5"}}}}}},
   "y": {"field": "v", "type": "quantitative", "scale": {"domain": [0, 100], "nice": false}, "axis": {"values": [0,10,20,30,40,50,60,70,80,90,100], "title": null, "labelExpr": "datum.value==100?'100':datum.value==50?'%':datum.value==0?'0':''", "encode": {"ticks": {"update": {"x2": {"signal": "datum.value%50==0?-10:-5"}}}}}}},
  "layer": [
   {"data": {"name": "A"}, "transform": [{"filter": "datum.p=='g'"}], "mark": {"type": "area", "color": "#c4c4c4", "opacity": 1}, "encoding": {"y2": {"field": "b"}}},
   {"data": {"name": "L"}, "transform": [{"filter": "datum.p=='g'"}], "mark": {"type": "line", "color": "#1c1c1c", "strokeWidth": 1.5}, "encoding": {}},
   {"data": {"name": "R"}, "transform": [{"filter": "datum.p=='g'"}], "mark": {"type": "rule", "color": "#1c1c1c", "strokeWidth": 1.3}, "encoding": {"x2": {"field": "t2"}, "y2": {"field": "v2"}}},
   {"data": {"name": "T"}, "transform": [{"filter": "datum.p=='g'"}], "mark": {"type": "text", "baseline": "middle", "color": "#1c1c1c", "align": {"expr": "datum.k=='hdr'?'right':(datum.k=='lab'||datum.k=='min')?'left':'center'"}, "fontWeight": {"expr": "(datum.k=='lab'||datum.k=='sr')?'bold':'normal'"}, "fontSize": {"expr": "datum.k=='sr'?20:datum.k=='lab'?19:(datum.k=='hdr'||datum.k=='min')?18:16.5"}}, "encoding": {"text": {"field": "s"}}}
  ]},
 {"width": 309, "height": 178,
  "encoding": {"x": {"field": "t", "type": "quantitative", "scale": {"domain": [0, 6], "nice": false, "zero": false}, "axis": {"values": [0.2,0.4,0.6,0.8,1,1.2,1.4,1.6,1.8,2,2.2,2.4,2.6,2.8,3,3.2,3.4,3.6,3.8,4,4.2,4.4,4.6,4.8,5,5.2,5.4,5.6,5.8], "title": null, "labelExpr": "(abs(datum.value-2)<0.01||abs(datum.value-4)<0.01)?format(datum.value,'.2f'):''", "encode": {"ticks": {"update": {"y2": {"signal": "abs(datum.value-round(datum.value))<0.01?10:5"}}}}}},
   "y": {"field": "v", "type": "quantitative", "scale": {"domain": [0, 100], "nice": false}, "axis": {"values": [0,10,20,30,40,50,60,70,80,90,100], "title": null, "labelExpr": "datum.value==100?'100':datum.value==50?'%':datum.value==0?'0':''", "encode": {"ticks": {"update": {"x2": {"signal": "datum.value%50==0?-10:-5"}}}}}}},
  "layer": [
   {"data": {"name": "A"}, "transform": [{"filter": "datum.p=='h'"}], "mark": {"type": "area", "color": "#c4c4c4", "opacity": 1}, "encoding": {"y2": {"field": "b"}}},
   {"data": {"name": "L"}, "transform": [{"filter": "datum.p=='h'"}], "mark": {"type": "line", "color": "#1c1c1c", "strokeWidth": 1.5}, "encoding": {}},
   {"data": {"name": "R"}, "transform": [{"filter": "datum.p=='h'"}], "mark": {"type": "rule", "color": "#1c1c1c", "strokeWidth": 1.3}, "encoding": {"x2": {"field": "t2"}, "y2": {"field": "v2"}}},
   {"data": {"name": "T"}, "transform": [{"filter": "datum.p=='h'"}], "mark": {"type": "text", "baseline": "middle", "color": "#1c1c1c", "align": {"expr": "datum.k=='hdr'?'right':(datum.k=='lab'||datum.k=='min')?'left':'center'"}, "fontWeight": {"expr": "(datum.k=='lab'||datum.k=='sr')?'bold':'normal'"}, "fontSize": {"expr": "datum.k=='sr'?20:datum.k=='lab'?19:(datum.k=='hdr'||datum.k=='min')?18:16.5"}}, "encoding": {"text": {"field": "s"}}}
  ]}
 ]}
]}
],
"config": {
 "font": "Liberation Sans",
 "view": {"stroke": null},
 "axis": {"domainColor": "#1c1c1c", "domainWidth": 1.5, "tickColor": "#1c1c1c", "tickWidth": 1.2, "tickSize": 5, "labelFontSize": 18, "labelColor": "#1c1c1c", "labelFont": "Liberation Sans", "grid": false, "labelOverlap": false, "labelFlush": false},
 "axisX": {"labelPadding": 6},
 "axisY": {"labelPadding": 5},
 "title": {"color": "#1c1c1c"}
}
}
